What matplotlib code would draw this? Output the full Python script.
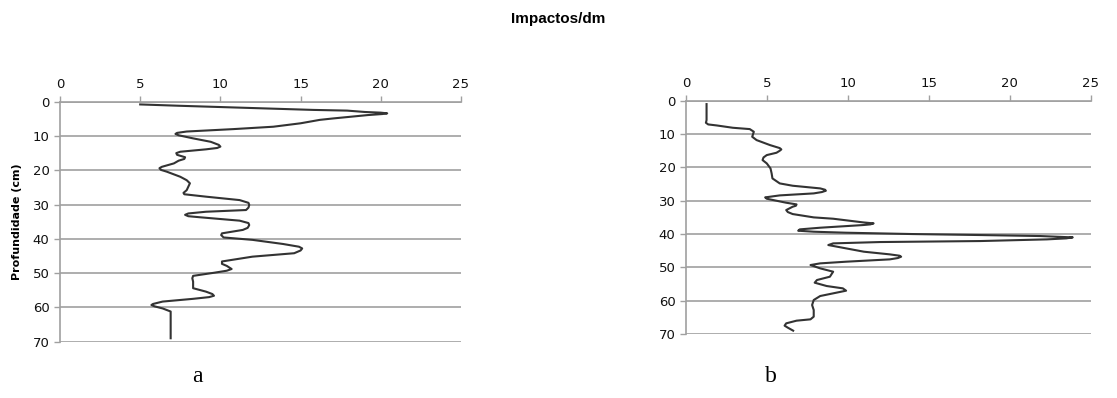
import matplotlib
matplotlib.use('Agg')
import matplotlib.pyplot as plt

# perfil a: profundidade (cm) x impactos/dm
depth_a = [0.8, 1.2, 2.4, 2.6, 3.0, 3.2, 3.4, 3.6, 3.9, 4.9, 5.3, 6.3, 7.3, 8.0, 8.7, 9.1,
           9.4, 9.8, 10.7, 11.7, 12.6, 13.1, 13.5, 13.9, 14.6, 15.0, 15.5, 16.2, 16.7,
           17.2, 18.0, 19.0, 19.4, 19.9, 20.4, 21.9, 22.9, 23.8, 24.8, 25.8, 26.6, 27.0,
           27.7, 28.7, 29.5, 30.1, 30.9, 31.6, 32.1, 32.6, 33.0, 33.4, 33.7, 34.7, 35.4,
           36.0, 36.8, 37.4, 38.4, 38.9, 39.6, 40.3, 41.5, 42.3, 42.8, 43.4, 44.2, 45.2,
           46.6, 47.3, 47.9, 48.8, 49.3, 49.9, 50.8, 51.5, 52.5, 54.4, 55.4, 56.1, 56.6,
           57.0, 57.5, 58.3, 59.0, 59.3, 59.7, 60.3, 61.2, 62.7, 69.0]
imp_a = [5.0, 7.5, 15.8, 17.9, 19.0, 20.0, 20.4, 20.1, 19.2, 17.0, 16.2, 15.0, 13.3, 10.8, 7.9, 7.3,
         7.2, 7.4, 8.3, 9.4, 9.9, 10.0, 9.8, 9.1, 7.5, 7.25, 7.3, 7.8, 7.75,
         7.4, 7.1, 6.35, 6.2, 6.3, 6.65, 7.5, 7.9, 8.1, 8.0, 7.9, 7.7, 7.75,
         9.1, 11.2, 11.75, 11.8, 11.75, 11.6, 9.1, 8.0, 7.8, 8.0, 8.7, 11.2, 11.75,
         11.8, 11.7, 11.4, 10.1, 10.05, 10.2, 12.0, 13.9, 14.9, 15.1, 15.0, 14.6, 12.0,
         10.1, 10.1, 10.4, 10.7, 10.4, 9.6, 8.3, 8.25, 8.3, 8.3, 9.1, 9.5, 9.6,
         9.3, 8.3, 6.4, 5.8, 5.7, 5.9, 6.4, 6.9, 6.9, 6.9]

# perfil b
depth_b = [1.0, 5.8, 6.6, 7.1, 7.4, 8.1, 8.5, 9.3, 10.8, 11.8, 13.3, 14.2, 14.6, 15.0,
           15.6, 16.3, 17.0, 17.8, 18.8, 20.3, 21.8, 23.3, 24.8, 25.5, 26.3, 26.7, 27.0,
           27.4, 27.8, 28.4, 29.0, 29.4, 29.8, 30.6, 31.1, 31.5, 31.8, 32.8, 33.4, 34.0,
           35.0, 35.4, 36.5, 36.8, 37.1, 37.3, 38.1, 38.6, 39.0, 39.3, 39.6, 40.0, 40.3,
           40.6, 41.0, 41.3, 41.6, 42.1, 42.4, 42.8, 43.3, 44.3, 45.3, 46.1, 46.5, 46.8,
           47.2, 47.6, 48.3, 48.8, 49.3, 50.3, 51.3, 52.8, 53.8, 54.6, 55.6, 56.3, 57.0,
           57.8, 58.6, 59.8, 61.3, 62.8, 64.8, 65.6, 66.0, 66.8, 67.5, 68.1, 69.0]
imp_b = [1.28, 1.28, 1.24, 1.38, 1.9, 2.9, 3.95, 4.2, 4.1, 4.37, 5.2, 5.8, 5.9, 5.8,
         5.6, 5.0, 4.8, 4.74, 5.0, 5.23, 5.3, 5.35, 5.8, 6.6, 8.3, 8.6, 8.65,
         8.4, 7.9, 5.8, 4.9, 5.0, 5.4, 6.2, 6.84, 6.8, 6.6, 6.2, 6.3, 6.6,
         7.9, 9.1, 10.95, 11.6, 11.4, 10.95, 8.3, 7.04, 6.94, 7.9, 9.9, 14.0, 18.2,
         21.9, 23.9, 23.5, 22.3, 18.2, 12.0, 9.1, 8.8, 9.9, 11.0, 12.6, 13.2, 13.3,
         13.1, 12.6, 9.9, 8.3, 7.7, 8.3, 9.1, 8.9, 8.1, 7.96, 8.7, 9.7, 9.9,
         9.1, 8.3, 7.9, 7.8, 7.9, 7.9, 7.7, 6.84, 6.2, 6.1, 6.3, 6.63]

x_ticks = [0, 5, 10, 15, 20, 25]
y_ticks = [0, 10, 20, 30, 40, 50, 60, 70]

fig = plt.figure(figsize=(11.17, 3.98), dpi=100)
ax_a = fig.add_axes([0.0537, 0.1415, 0.359, 0.603])
ax_b = fig.add_axes([0.614, 0.1608, 0.3623, 0.586])

grey = '#a0a0a0'
for ax, dep, imp in [(ax_a, depth_a, imp_a), (ax_b, depth_b, imp_b)]:
    ax.plot(imp, dep, color='#333333', lw=1.5, solid_joinstyle='round')
    ax.set_xlim(0, 25)
    ax.set_ylim(70, 0)
    ax.set_xticks(x_ticks)
    ax.set_yticks(y_ticks)
    ax.xaxis.tick_top()
    ax.yaxis.grid(True, color=grey, lw=1.2)
    ax.set_axisbelow(True)
    for s in ['right', 'bottom']:
        ax.spines[s].set_visible(False)
    for s in ['top', 'left']:
        ax.spines[s].set_color(grey)
        ax.spines[s].set_linewidth(1.2)
    ax.tick_params(axis='both', colors=grey, length=4, width=1,
                   labelcolor='#111111', labelsize=9.5)
    ax.tick_params(axis='x', pad=4)

ax_a.set_ylabel('Profundidade (cm)', fontsize=8, fontweight='bold', labelpad=8)

fig.text(0.5, 0.952, 'Impactos/dm', ha='center', va='center', fontsize=11,
         fontweight='bold', family=['Liberation Sans Narrow', 'Liberation Sans'])
fig.text(0.177, 0.055, 'a', ha='center', va='center', fontsize=17,
         family='Liberation Serif')
fig.text(0.69, 0.055, 'b', ha='center', va='center', fontsize=17,
         family='Liberation Serif')

fig.savefig('out.png', dpi=100)
